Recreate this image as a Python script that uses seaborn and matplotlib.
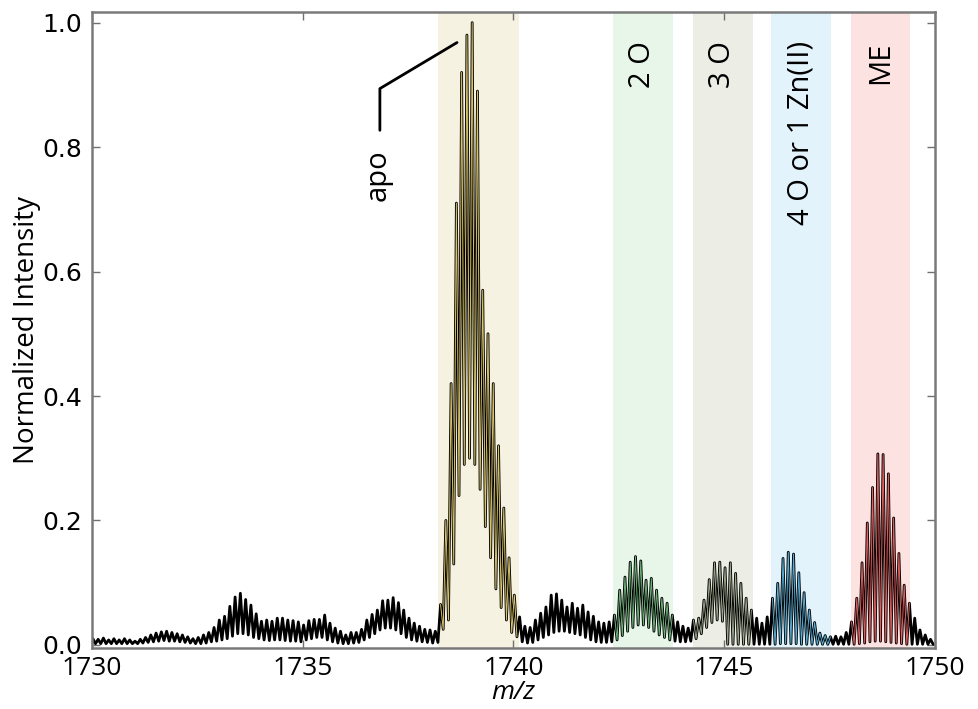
import pandas as pd
import matplotlib
matplotlib.use("Agg")
import matplotlib.pyplot as plt
import seaborn as sns
from matplotlib import font_manager

# isotope peaks of the 8+ ion: first apex and spacing (1/z)
first_peak = 1730.02
spacing = 0.125

# apex heights, one row per m/z unit (1730 ... 1749)
peak_tops = [
    [0.010, 0.009, 0.011, 0.008, 0.010, 0.008, 0.010, 0.008],
    [0.006, 0.009, 0.012, 0.016, 0.019, 0.021, 0.022, 0.020],
    [0.018, 0.016, 0.013, 0.010, 0.012, 0.016, 0.020, 0.028],
    [0.040, 0.046, 0.062, 0.077, 0.083, 0.073, 0.064, 0.050],
    [0.038, 0.040, 0.038, 0.043, 0.043, 0.040, 0.039, 0.037],
    [0.032, 0.039, 0.041, 0.041, 0.048, 0.035, 0.027, 0.022],
    [0.016, 0.020, 0.020, 0.025, 0.040, 0.049, 0.056, 0.071],
    [0.072, 0.076, 0.068, 0.056, 0.043, 0.035, 0.030, 0.025],
    [0.024, 0.022, 0.065, 0.200, 0.420, 0.710, 0.920, 0.980],
    [1.000, 0.890, 0.570, 0.500, 0.420, 0.320, 0.220, 0.140],
    [0.080, 0.045, 0.030, 0.028, 0.040, 0.051, 0.061, 0.080],
    [0.082, 0.072, 0.061, 0.067, 0.059, 0.064, 0.053, 0.046],
    [0.037, 0.035, 0.037, 0.048, 0.088, 0.109, 0.133, 0.142],
    [0.135, 0.104, 0.107, 0.088, 0.075, 0.067, 0.048, 0.037],
    [0.030, 0.027, 0.040, 0.043, 0.072, 0.105, 0.132, 0.133],
    [0.124, 0.132, 0.115, 0.099, 0.075, 0.056, 0.043, 0.035],
    [0.045, 0.075, 0.099, 0.139, 0.149, 0.146, 0.116, 0.084],
    [0.056, 0.036, 0.019, 0.015, 0.013, 0.014, 0.013, 0.020],
    [0.037, 0.075, 0.132, 0.196, 0.253, 0.307, 0.306, 0.275],
    [0.204, 0.147, 0.096, 0.067, 0.043, 0.024, 0.016, 0.009],
]

# minima just after each apex
valleys = [
    [0.002, 0.002, 0.002, 0.002, 0.002, 0.002, 0.002, 0.002],
    [0.002, 0.003, 0.004, 0.005, 0.006, 0.007, 0.006, 0.006],
    [0.005, 0.004, 0.003, 0.002, 0.002, 0.003, 0.005, 0.006],
    [0.008, 0.010, 0.014, 0.018, 0.018, 0.016, 0.012, 0.010],
    [0.008, 0.007, 0.008, 0.008, 0.007, 0.006, 0.006, 0.005],
    [0.008, 0.010, 0.012, 0.012, 0.008, 0.005, 0.003, 0.002],
    [0.002, 0.003, 0.004, 0.008, 0.012, 0.018, 0.024, 0.027],
    [0.027, 0.024, 0.018, 0.012, 0.008, 0.006, 0.005, 0.004],
    [0.003, 0.004, 0.025, 0.040, 0.130, 0.240, 0.290, 0.300],
    [0.290, 0.250, 0.190, 0.140, 0.090, 0.060, 0.040, 0.020],
    [0.013, 0.005, 0.003, 0.004, 0.008, 0.012, 0.016, 0.020],
    [0.022, 0.022, 0.020, 0.018, 0.016, 0.012, 0.008, 0.005],
    [0.004, 0.004, 0.005, 0.008, 0.015, 0.022, 0.028, 0.032],
    [0.032, 0.028, 0.022, 0.016, 0.012, 0.008, 0.006, 0.005],
    [0.005, 0.006, 0.010, 0.018, 0.028, 0.036, 0.040, 0.038],
    [0.001, 0.001, 0.001, 0.001, 0.001, 0.001, 0.001, 0.001],
    [0.001, 0.001, 0.002, 0.002, 0.002, 0.002, 0.001, 0.001],
    [0.001, 0.001, 0.001, 0.001, 0.001, 0.001, 0.001, 0.001],
    [0.001, 0.002, 0.003, 0.005, 0.006, 0.006, 0.005, 0.004],
    [0.003, 0.002, 0.001, 0.001, 0.001, 0.001, 0.001, 0.001],
]

# shaded species windows
region_names = ["apo", "2 O", "3 O", "4 O or 1 Zn(II)", "ME"]
region_lo = [1738.21, 1742.36, 1744.26, 1746.11, 1748.01]
region_hi = [1740.13, 1743.78, 1745.68, 1747.53, 1749.41]
band_colors = ["#f6f2e2", "#e8f6ea", "#eceee6", "#e2f3fb", "#fde2e2"]
trace_colors = ["#d9c46a", "#6fb37a", "#9aa58a", "#5aaed6", "#e06060"]

tops = [v for row in peak_tops for v in row]
mins = [v for row in valleys for v in row]
mz, inten = [1730.0], [0.003]
for k, (t, m) in enumerate(zip(tops, mins)):
    mz += [first_peak + k * spacing, first_peak + k * spacing + spacing / 2]
    inten += [t, m]
spec = pd.DataFrame({"mz": mz, "intensity": inten})

sns.set_style("ticks")
names = {f.name for f in font_manager.fontManager.ttflist}
narrow = "Liberation Sans Narrow" if "Liberation Sans Narrow" in names else "Open Sans"
label_font = ["Open Sans", "DejaVu Sans"]
plt.rcParams["font.family"] = ["DejaVu Sans"]
plt.rcParams["text.color"] = "black"

fig = plt.figure(figsize=(9.79, 7.09), dpi=100)
ax = fig.add_axes([0.094, 0.086, 0.861, 0.897])

for lo, hi, c in zip(region_lo, region_hi, band_colors):
    ax.axvspan(lo, hi, color=c, lw=0, zorder=0)

sns.lineplot(data=spec, x="mz", y="intensity", color="black", lw=2.0,
             sort=False, estimator=None, ax=ax, zorder=2)
for lo, hi, c in zip(region_lo, region_hi, trace_colors):
    part = spec[(spec["mz"] >= lo) & (spec["mz"] <= hi)]
    sns.lineplot(data=part, x="mz", y="intensity", color=c, lw=0.7,
                 sort=False, estimator=None, ax=ax, zorder=3)

for name, lo, hi in zip(region_names[1:], region_lo[1:], region_hi[1:]):
    ax.text((lo + hi) / 2, 0.97, name, rotation=90, ha="center", va="top",
            fontsize=21, color="black", family=label_font)

# apo label with leader line
ax.plot([1736.83, 1736.83, 1738.66], [0.827, 0.894, 0.968], color="black", lw=2)
ax.text(1736.79, 0.797, "apo", rotation=90, ha="center", va="top",
        fontsize=21, color="black", family=label_font)

ax.set_xlim(1730, 1750)
ax.set_ylim(-0.005, 1.017)
ax.set_xticks([1730, 1735, 1740, 1745, 1750])
ax.set_yticks([0.0, 0.2, 0.4, 0.6, 0.8, 1.0])
ax.set_yticklabels(["0.0", "0.2", "0.4", "0.6", "0.8", "1.0"], fontsize=18, color="black")
ax.set_xticklabels(["1730", "1735", "1740", "1745", "1750"], fontsize=19,
                   family=narrow, color="black")
ax.tick_params(axis="both", direction="in", top=True, right=True, length=6, width=1,
               color="#707070")
ax.tick_params(axis="x", pad=6)
ax.tick_params(axis="y", pad=7)
for s in ax.spines.values():
    s.set_color("#7a7a7a")
    s.set_linewidth(1.8)
ax.set_xlabel("m/z", fontsize=19, style="italic", family=narrow, color="black", labelpad=-1)
ax.set_ylabel("Normalized Intensity", fontsize=20, family=label_font, color="black",
              labelpad=1)

fig.savefig("out.png", dpi=100)
